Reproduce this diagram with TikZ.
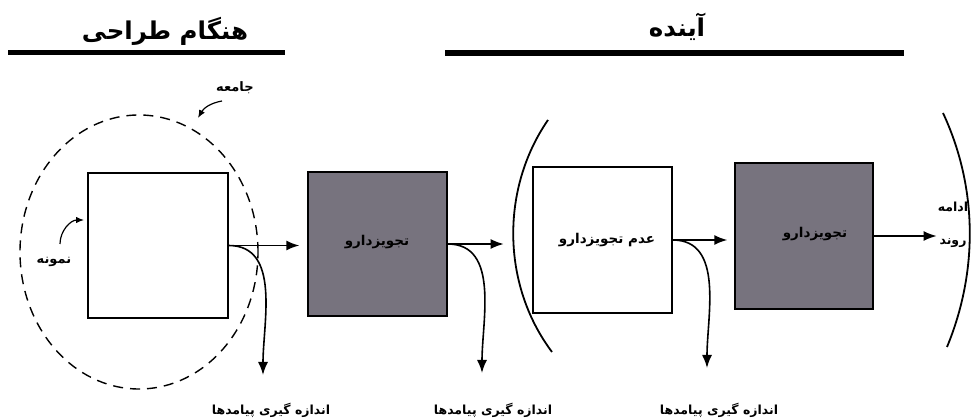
\documentclass[tikz,border=0pt]{standalone}
\usepackage{fontspec}
\newfontfamily\farsi[Script=Arabic]{DejaVu Sans}
\TeXXeTstate=1
\newcommand{\fa}[1]{{\farsi\bfseries\beginR #1\endR}}
\usetikzlibrary{arrows.meta}
\begin{document}
\begin{tikzpicture}[x=1pt,y=1pt,
  box/.style={draw,line width=1.4pt,inner sep=0pt},
  flow/.style={line width=1.6pt,-{Latex[length=13pt,width=10pt]}},
  note/.style={line width=1.2pt,-{Latex[length=8pt,width=6.5pt]}},
  txt/.style={inner sep=1pt,font=\fontsize{12.5}{14}\selectfont},
  head/.style={inner sep=1pt,font=\fontsize{24.5}{28}\selectfont}]
  \definecolor{drug}{HTML}{77737E}
  \useasboundingbox (0,0) rectangle (975,420);
  \node [head] (design) at (165,389) {\fa{هنگام طراحی}};
  \node [head] (future) at (677,393) {\fa{آینده}};
  \draw [line width=5.5pt] (8,367.5) -- (285,367.5);
  \draw [line width=6pt] (445,367) -- (904,367);
  \draw [dashed,line width=1.4pt,dash pattern=on 10pt off 7pt] (139,168) ellipse (119 and 137);
  \node [box,minimum width=140pt,minimum height=145pt] (sample) at (158,174.5) {};
  \node [box,fill=drug,minimum width=139pt,minimum height=144pt] (drugA) at (377.5,176) {};
  \node [box,minimum width=139pt,minimum height=146pt] (nodrug) at (602.5,180) {};
  \node [box,fill=drug,minimum width=138pt,minimum height=146pt] (drugB) at (804,184) {};
  \node [txt,font=\fontsize{13.5}{15}\selectfont] (drugAtxt) at (377,178) {\fa{تجویزدارو}};
  \node [txt,font=\fontsize{13.5}{15}\selectfont] (nodrugtxt) at (607,180) {\fa{عدم تجویزدارو}};
  \node [txt,font=\fontsize{13.5}{15}\selectfont] (drugBtxt) at (815,186) {\fa{تجویزدارو}};
  \node [txt] (cont1) at (953,213) {\fa{ادامه}};
  \node [txt] (cont2) at (953,177) {\fa{روند}};
  \node [txt,font=\fontsize{13}{15}\selectfont] (popl) at (235,332) {\fa{جامعه}};
  \node [txt,font=\fontsize{13}{15}\selectfont] (smpl) at (54,158) {\fa{نمونه}};
  \node [txt] (out1) at (271,10) {\fa{اندازه گیری پیامدها}};
  \node [txt] (out2) at (493,10) {\fa{اندازه گیری پیامدها}};
  \node [txt] (out3) at (719,10) {\fa{اندازه گیری پیامدها}};
  \coordinate (tip1) at (263,45);
  \coordinate (tip2) at (482,47);
  \coordinate (tip3) at (707,52);
  \draw [flow,shorten >=8pt] (sample.east) -- (sample.east -| drugA.west);
  \draw [flow] (drugA.east) -- ++(56,0) coordinate (drugAend);
  \draw [flow,shorten >=7pt] (nodrug.east) -- (nodrug.east -| drugB.west);
  \draw [flow] (drugB.east) -- (cont1.west |- drugB.east) coordinate (drugBend);
  \draw [flow] (sample.east) to [out=0,in=90] (tip1);
  \draw [flow] (drugA.east) to [out=0,in=90] (tip2);
  \draw [flow] (nodrug.east) to [out=0,in=90] (tip3);
  \draw [note] (222,319) to [out=190,in=60] (198,302);
  \draw [note] (60,176) to [out=90,in=180] (84,200);
  \draw [line width=1.8pt] (548,300) .. controls (501,232) and (501,136) .. (552,68);
  \draw [line width=1.8pt] (943,307) .. controls (978,232) and (978,148) .. (947,73);
\end{tikzpicture}
\end{document}
